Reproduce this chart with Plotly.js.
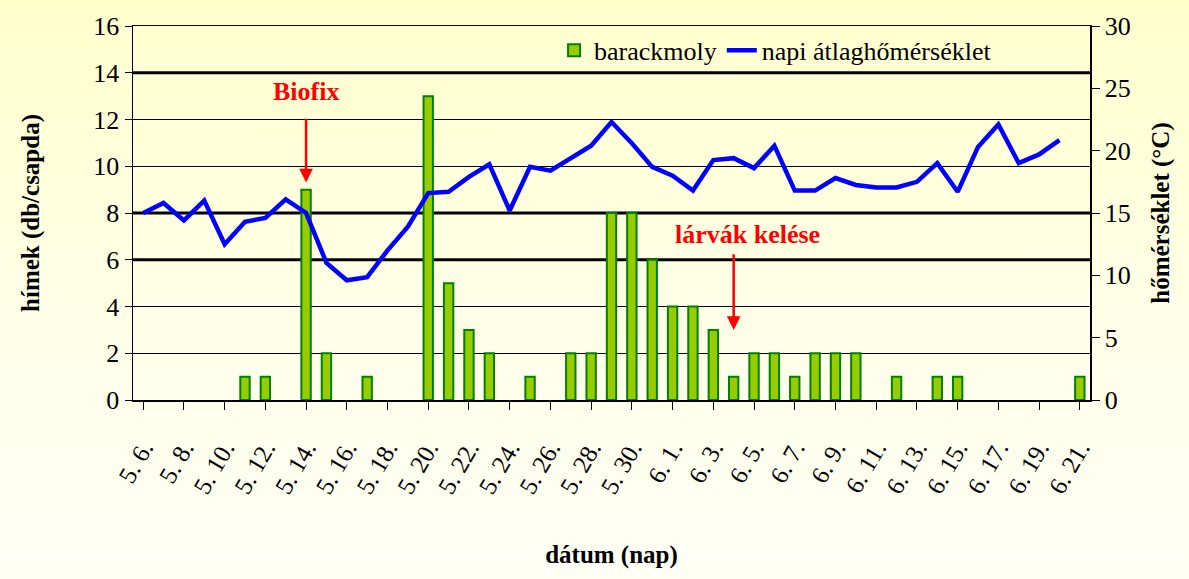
<!DOCTYPE html>
<html>
<head>
<meta charset="utf-8">
<script src="https://cdn.plot.ly/plotly-3.0.1.min.js"></script>
<style>
html,body{margin:0;padding:0;}
body{width:1189px;height:579px;background:linear-gradient(to bottom,#FFFFCC 0%,#FFFFE6 50%,#FFFFF6 100%);}
#chart{width:1189px;height:579px;}
</style>
</head>
<body>
<div id="chart"></div>
<script>
const dates = [
 "5. 6.","5. 7.","5. 8.","5. 9.","5. 10.","5. 11.","5. 12.","5. 13.","5. 14.","5. 15.",
 "5. 16.","5. 17.","5. 18.","5. 19.","5. 20.","5. 21.","5. 22.","5. 23.","5. 24.","5. 25.",
 "5. 26.","5. 27.","5. 28.","5. 29.","5. 30.","5. 31.",
 "6. 1.","6. 2.","6. 3.","6. 4.","6. 5.","6. 6.","6. 7.","6. 8.","6. 9.","6. 10.",
 "6. 11.","6. 12.","6. 13.","6. 14.","6. 15.","6. 16.","6. 17.","6. 18.","6. 19.","6. 20.","6. 21."
];
const moths = [
 0,0,0,0,0,1,1,0,9,2,
 0,1,0,0,13,5,3,2,0,1,
 0,2,2,8,8,6,
 4,4,3,1,2,2,1,2,2,2,
 0,1,0,1,1,0,0,0,0,0,1
];
const temp = [
 15.0,15.8,14.4,16.0,12.5,14.3,14.6,16.1,15.0,11.0,
 9.6,9.85,12.0,13.9,16.6,16.7,17.9,18.9,15.2,18.7,
 18.4,19.4,20.4,22.3,20.6,18.7,
 18.0,16.8,19.25,19.4,18.6,20.4,16.8,16.8,17.8,17.25,
 17.05,17.05,17.5,19.0,16.7,20.3,22.1,19.0,19.7,20.85,null
];
const tickDates = dates.filter((d,i)=> i%2===0);
const biofixLabel = "Biofix", biofixDate = "5. 14.";
const larvaLabel = "lárvák kelése", larvaDate = "6. 4.";

const serif = "Liberation Serif";
const red = "#FF0000";

const traces = [
 {type:"bar", name:"barackmoly", x:dates, y:moths.map(v => v === 0 ? null : v), width:0.46,
  marker:{color:"#99CC00", line:{color:"#008000", width:2}}},
 {type:"scatter", mode:"lines", name:"napi átlaghőmérséklet", x:dates, y:temp, yaxis:"y2",
  line:{color:"#0000FF", width:4.5}, connectgaps:false}
];

const thickGrid = [6, 8, 14];
const shapes = thickGrid.map(v => ({type:"line", xref:"paper", yref:"y", x0:0, x1:1, y0:v, y1:v,
  line:{color:"#000", width:3}, layer:"below"}));

function arrow(xv, tip, tail){
 return {x:xv, y:tip, xref:"x", yref:"y", axref:"x", ayref:"y", ax:xv, ay:tail, text:"",
  showarrow:true, arrowhead:2, arrowsize:1.1, arrowwidth:2.5, arrowcolor:red, standoff:0};
}

const layout = {
 width:1189, height:579,
 paper_bgcolor:"rgba(0,0,0,0)", plot_bgcolor:"rgba(0,0,0,0)",
 margin:{l:133, r:99, t:26, b:179},
 font:{family:serif, color:"#000", size:22},
 showlegend:true,
 legend:{orientation:"h", x:0.44, y:0.935, xanchor:"left", yanchor:"middle",
   bgcolor:"rgba(0,0,0,0)", font:{family:serif, size:26}, traceorder:"normal"},
 shapes:shapes,
 xaxis:{type:"category", tickmode:"array", tickvals:tickDates, ticktext:tickDates,
   tickangle:-60, ticks:"outside", ticklen:8, tickcolor:"#000", showline:true, linecolor:"#000",
   linewidth:1.5, mirror:true, showgrid:false, tickfont:{family:serif, size:25},
   ticklabelstandoff:14,
   title:{text:"<b>dátum (nap)</b>", font:{family:serif, size:25}, standoff:48},
   range:[-0.5, 46.5]},
 yaxis:{range:[0,16], dtick:2, ticks:"outside", ticklen:7, tickcolor:"#000", showline:true,
   linecolor:"#000", linewidth:1.5, showgrid:true, gridcolor:"#000", gridwidth:1.3,
   zeroline:false, tickfont:{family:serif, size:26},
   title:{text:"<b>hímek (db/csapda)</b>", font:{family:serif, size:25}, standoff:46}},
 yaxis2:{overlaying:"y", side:"right", range:[0,30], dtick:5, ticks:"outside", ticklen:8,
   tickcolor:"#000", showline:true, linecolor:"#000", linewidth:1.5, showgrid:false, zeroline:false,
   tickfont:{family:serif, size:26},
   title:{text:"<b>hőmérséklet (°C)</b>", font:{family:serif, size:25}, standoff:22}},
 annotations:[
  {x:biofixDate, y:13.2, xref:"x", yref:"y", text:"<b>"+biofixLabel+"</b>", showarrow:false,
   font:{family:serif, size:26, color:red}},
  arrow(biofixDate, 9.3, 12.1),
  {x:larvaDate, y:7.1, xref:"x", yref:"y", xshift:14, text:"<b>"+larvaLabel+"</b>", showarrow:false,
   font:{family:serif, size:26, color:red}},
  arrow(larvaDate, 3.0, 6.3)
 ]
};

Plotly.newPlot("chart", traces, layout, {displayModeBar:false, staticPlot:true});
</script>
</body>
</html>
